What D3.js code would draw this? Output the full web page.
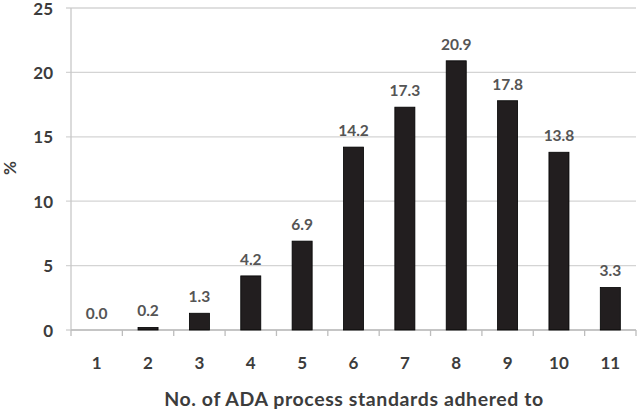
<!DOCTYPE html>
<html>
<head>
<meta charset="utf-8">
<script src="https://d3js.org/d3.v7.min.js"></script>
<style>
body { margin: 0; background: #fff; }
text { font-family: Lato, "Open Sans", sans-serif; font-weight: bold; }
</style>
</head>
<body>
<div id="chart"></div>
<script>
// data
var categories = ["1", "2", "3", "4", "5", "6", "7", "8", "9", "10", "11"];
var percents = [0.0, 0.2, 1.3, 4.2, 6.9, 14.2, 17.3, 20.9, 17.8, 13.8, 3.3];
var yTicks = [0, 5, 10, 15, 20, 25];

var W = 640, H = 413;
var margin = {top: 8, right: 4, bottom: 83, left: 71};
var width = W - margin.left - margin.right,
    height = H - margin.top - margin.bottom;

var svg = d3.select("#chart").append("svg")
  .attr("width", W).attr("height", H);
var g = svg.append("g")
  .attr("transform", "translate(" + margin.left + "," + margin.top + ")");

var x = d3.scaleBand().domain(categories).range([0, width]).paddingInner(0.61).paddingOuter(0.305);
var y = d3.scaleLinear().domain([0, 25]).range([height, 0]);

// gridlines
g.selectAll(".grid").data(yTicks).enter().append("line")
  .attr("x1", -5).attr("x2", width)
  .attr("y1", d => y(d)).attr("y2", d => y(d))
  .attr("stroke", "#d4d4d4").attr("stroke-width", 1.3);

// y axis line
g.append("line").attr("x1", 0).attr("x2", 0).attr("y1", 0).attr("y2", height)
  .attr("stroke", "#c8c8c8").attr("stroke-width", 1.3);

// y tick labels
g.selectAll(".ylab").data(yTicks).enter().append("text")
  .attr("x", -18).attr("y", d => y(d) + 0.5).attr("dy", "0.36em")
  .attr("text-anchor", "end").attr("font-size", 17).attr("fill", "#3c3c3c")
  .text(d => d);

// x axis with ticks between categories
var step = x.step();
g.append("line").attr("x1", 0).attr("x2", width).attr("y1", height).attr("y2", height)
  .attr("stroke", "#bdbdbd").attr("stroke-width", 1.3);
g.selectAll(".xtick").data(d3.range(categories.length + 1)).enter().append("line")
  .attr("x1", i => i * step).attr("x2", i => i * step)
  .attr("y1", height).attr("y2", height + 6)
  .attr("stroke", "#bdbdbd").attr("stroke-width", 1.3);

// bars
g.selectAll(".bar").data(percents).enter().append("rect")
  .attr("x", (d, i) => x(categories[i]))
  .attr("width", x.bandwidth())
  .attr("y", d => y(d))
  .attr("height", d => height - y(d))
  .attr("fill", "#221e1f").attr("stroke", "#000").attr("stroke-width", 0.8);

// value labels
g.selectAll(".val").data(percents).enter().append("text")
  .attr("x", (d, i) => x(categories[i]) + x.bandwidth() / 2)
  .attr("y", d => y(d) - 11)
  .attr("text-anchor", "middle").attr("font-size", 15.5).attr("fill", "#555")
  .text(d => d.toFixed(1));

// x tick labels
g.selectAll(".xlab").data(categories).enter().append("text")
  .attr("x", d => x(d) + x.bandwidth() / 2)
  .attr("y", height + 33).attr("dy", "0.36em")
  .attr("text-anchor", "middle").attr("font-size", 17).attr("fill", "#3c3c3c")
  .text(d => d);

// axis titles
svg.append("text")
  .attr("x", 354).attr("y", 399).attr("dy", "0.36em")
  .attr("text-anchor", "middle").attr("font-size", 19.5)
  .attr("letter-spacing", "0.6px").attr("fill", "#3c3c3c")
  .text("No. of ADA process standards adhered to");

svg.append("text")
  .attr("transform", "translate(10,168) rotate(-90)")
  .attr("dy", "0.36em")
  .attr("text-anchor", "middle").attr("font-size", 17).attr("fill", "#3c3c3c")
  .text("%");
</script>
</body>
</html>
